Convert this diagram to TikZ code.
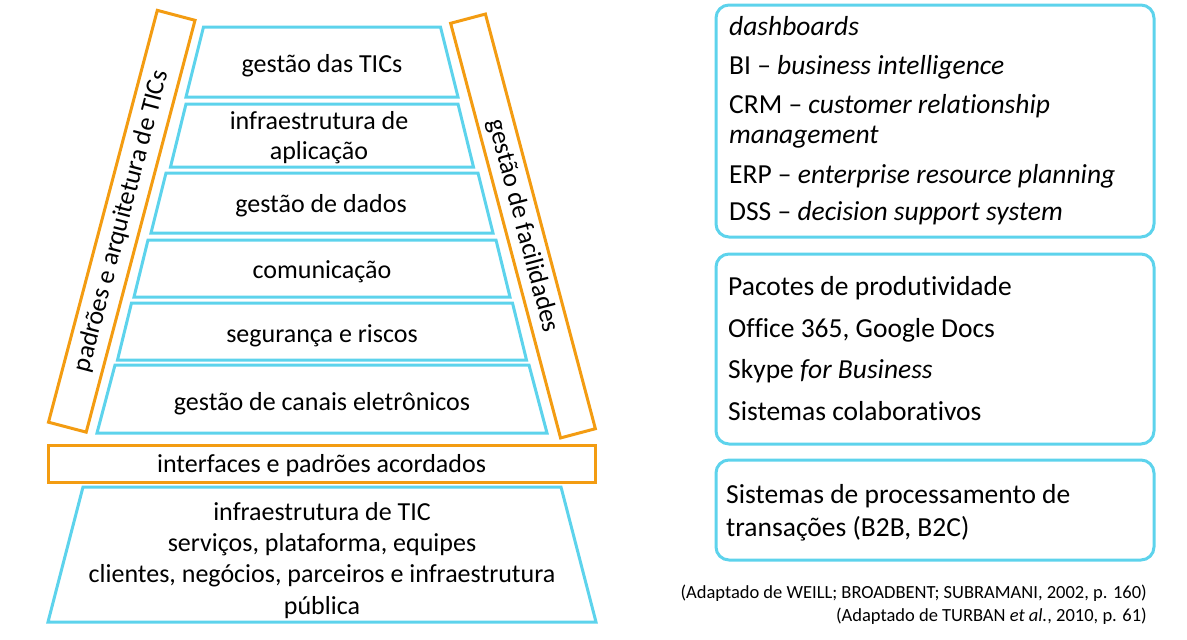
\documentclass[tikz,border=0pt]{standalone}
\usepackage{fontspec}
\setmainfont{Carlito}[RawFeature=-liga]
\definecolor{cyanL}{RGB}{93,211,236}
\definecolor{orangeL}{RGB}{243,156,18}
\newcommand\mytrap[4]{\draw[trap] ({322-#2},#1) -- ({322+#2},#1) -- ({322+#4},#3) -- ({322-#4},#3) -- cycle;}
\begin{document}
\begin{tikzpicture}[x=1pt,y=-1pt,
  trap/.style={draw=cyanL, line width=3pt, line join=miter},
  obar/.style={draw=orangeL, line width=3pt, inner sep=0pt, font=\fontsize{26}{30}\selectfont},
  rbox/.style={draw=cyanL, line width=3pt, rounded corners=13pt},
  lt/.style={anchor=base, inner sep=0pt, font=\fontsize{26}{30}\selectfont},
  rt/.style={anchor=base west, inner sep=0pt, font=\fontsize{27.5}{33}\selectfont},
  cp/.style={anchor=base east, inner sep=0pt, font=\fontsize{18.5}{22}\selectfont}]
\useasboundingbox (0,0) rectangle (1187,640);

% pyramid
\mytrap{27}{118.5}{97}{136}
\mytrap{104}{136}{167}{151.5}
\mytrap{173}{156}{233}{171}
\mytrap{240}{174}{297}{188}
\mytrap{303}{190.5}{360}{204.5}
\mytrap{365}{207}{433}{225}
\mytrap{487}{239}{622}{274}

\node[lt] (t1) at (322,72) {gestão das TICs};
\node[lt] (t2a) at (319,129) {infraestrutura de};
\node[lt] (t2b) at (319,159) {aplicação};
\node[lt] (t3) at (321,212) {gestão de dados};
\node[lt] (t4) at (322,278) {comunicação};
\node[lt] (t5) at (322,342) {segurança e riscos};
\node[lt] (t6) at (322,410) {gestão de canais eletrônicos};

% interfaces
\node[draw=orangeL, line width=3pt, minimum width=547pt, minimum height=37pt, inner sep=0pt] (ifc) at (321.5,463.5) {};
\node[lt] (ift) at (321.5,472) {interfaces e padrões acordados};

\node[lt] (b1) at (322,520) {infraestrutura de TIC};
\node[lt] (b2) at (322,551) {serviços, plataforma, equipes};
\node[lt] (b3) at (322,582) {clientes, negócios, parceiros e infraestrutura};
\node[lt] (b4) at (322,614) {pública};

% side bars
\node[obar, rotate=75.2, minimum width=426pt, minimum height=39pt] (lbar) at (121.75,221.25) {padrões e arquitetura de TICs};
\node[obar, rotate=-75.15, minimum width=429pt, minimum height=36pt] (rbar) at (523,226) {gestão de facilidades};

% right boxes
\draw[rbox] (716,5) rectangle (1154,237);
\draw[rbox] (716,254) rectangle (1154,444);
\draw[rbox] (716,460) rectangle (1154,560);

\node[rt] (a1) at (729,35) {\textit{dashboards}};
\node[rt] (a2) at (729,74) {BI – \textit{business intelligence}};
\node[rt] (a3) at (729,113) {CRM – \textit{customer relationship}};
\node[rt] (a4) at (729,143) {\textit{management}};
\node[rt] (a5) at (729,183) {ERP – \textit{enterprise resource planning}};
\node[rt] (a6) at (729,220) {DSS – \textit{decision support system}};

\node[rt] (p1) at (728,295) {Pacotes de produtividade};
\node[rt] (p2) at (728,337) {Office 365, Google Docs};
\node[rt] (p3) at (728,378) {Skype \textit{for Business}};
\node[rt] (p4) at (728,420) {Sistemas colaborativos};

\node[rt] (s1) at (726,503) {Sistemas de processamento de};
\node[rt] (s2) at (726,536) {transações (B2B, B2C)};

\node[cp] (c1) at (1147,598) {(Adaptado de WEILL; BROADBENT; SUBRAMANI, 2002, p. 160)};
\node[cp] (c2) at (1147,621) {(Adaptado de TURBAN \textit{et al.}, 2010, p. 61)};
\end{tikzpicture}
\end{document}
